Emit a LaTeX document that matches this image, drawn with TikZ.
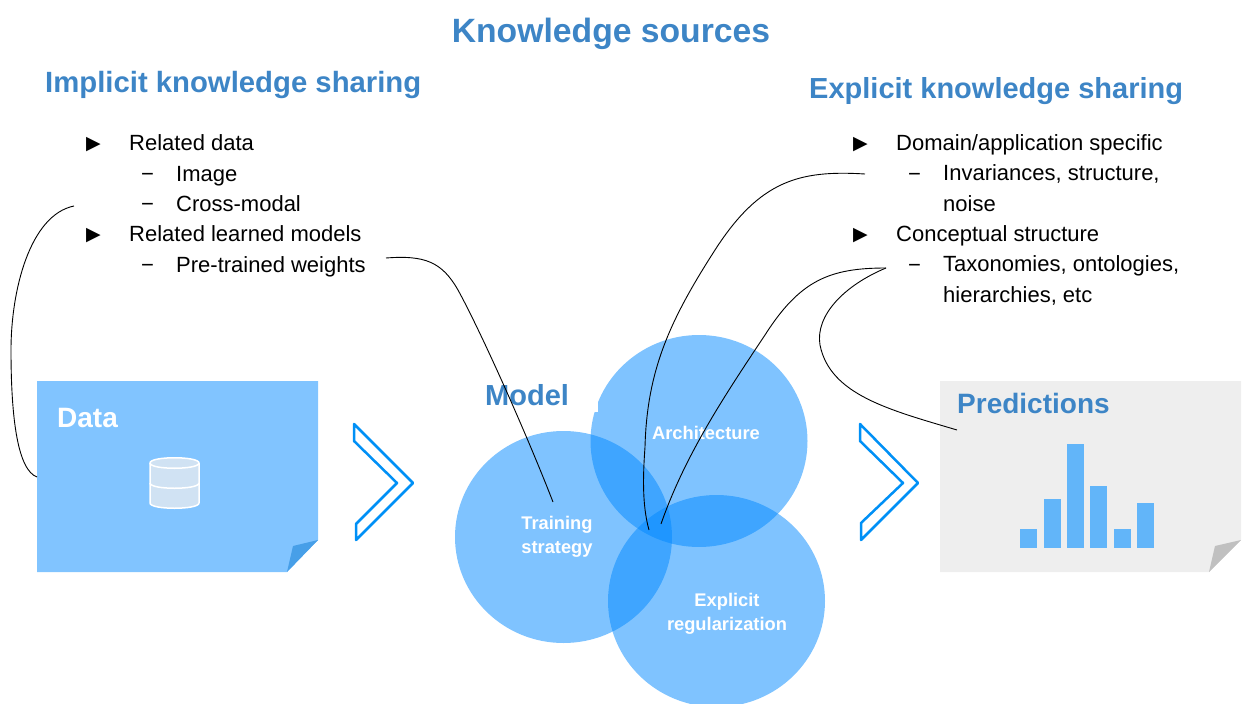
\documentclass[tikz,border=0pt]{standalone}
\usepackage{fontspec}
\setmainfont{Liberation Sans}
\newfontfamily\symbolfont{DejaVu Sans}
\usepackage{tikz}
\definecolor{headblue}{rgb}{0.239,0.522,0.776}
\definecolor{circleblue}{rgb}{0.000,0.533,1.000}
\definecolor{noteblue}{rgb}{0.506,0.769,1.000}
\definecolor{foldblue}{rgb}{0.278,0.624,0.910}
\definecolor{notegrey}{rgb}{0.933,0.933,0.933}
\definecolor{foldgrey}{rgb}{0.753,0.753,0.753}
\definecolor{barblue}{rgb}{0.384,0.710,0.976}
\definecolor{chevronblue}{rgb}{0.000,0.565,0.965}
\definecolor{diskblue}{rgb}{0.816,0.886,0.953}
\tikzstyle{head}=[inner sep=0,text=headblue,font=\bfseries\fontsize{29}{36}\selectfont]
\tikzstyle{headsmall}=[style=head,font=\bfseries\fontsize{28}{36}\selectfont]
\tikzstyle{bullet}=[inner sep=0,anchor=base west,align=left,font=\fontsize{22}{30.5}\selectfont]
\tikzstyle{arrowmark}=[inner sep=0,anchor=base west,font=\symbolfont\fontsize{19}{24}\selectfont]
\tikzstyle{inside}=[inner sep=0,align=center,text=white,font=\bfseries\fontsize{18.3}{24}\selectfont]
\tikzstyle{blob}=[fill=circleblue,fill opacity=0.5]
\tikzstyle{chevron}=[draw=chevronblue,line width=2.5pt,line join=round]
\tikzstyle{link}=[black,line width=0.9pt]
\tikzstyle{bar}=[fill=barblue]
\begin{document}
\begin{tikzpicture}[x=1pt,y=-1pt]
	\useasboundingbox (0,0) rectangle (1243,704);
	% the two notes
	\fill [noteblue] (37,381) -- (318,381) -- (318,540) -- (287,572) -- (37,572) -- cycle;
	\fill [foldblue] (318,540) -- (293,546) -- (287,572) -- cycle;
	\fill [notegrey] (940,381) -- (1241,381) -- (1241,540) -- (1209,572) -- (940,572) -- cycle;
	\fill [foldgrey] (1241,540) -- (1215,546) -- (1209,572) -- cycle;
	% database
	\filldraw [draw=white,fill=diskblue,line width=1.5pt] (150,463) -- (150,503) .. controls (150,510) and (199,510) .. (199,503) -- (199,463) .. controls (199,456) and (150,456) .. cycle;
	\draw [white,line width=1.5pt] (150,463) .. controls (150,470) and (199,470) .. (199,463);
	\draw [white,line width=1.5pt] (150,483) .. controls (150,490) and (199,490) .. (199,483);
	% circles
	\fill [style=blob] (699,441) ellipse (108.5 and 106);
	\fill [white] (480,375) rectangle (598,412);
	\fill [style=blob] (563.5,537) ellipse (108.5 and 106);
	\fill [style=blob] (716.5,601) ellipse (108.5 and 106);
	% chevrons
	\draw [style=chevron] (354,424) -- (413,483) -- (356,540) -- (356,524) -- (397,483) -- (354,441) -- cycle;
	\draw [style=chevron] (860,424) -- (918,483) -- (861,540) -- (861,523) -- (903,483) -- (860,441) -- cycle;
	% bars
	\fill [style=bar] (1020,529) rectangle (1037,548);
	\fill [style=bar] (1044,499) rectangle (1061,548);
	\fill [style=bar] (1067,444) rectangle (1084,548);
	\fill [style=bar] (1090,486) rectangle (1107,548);
	\fill [style=bar] (1114,529) rectangle (1131,548);
	\fill [style=bar] (1137,503) rectangle (1154,548);
	% titles
	\node [style=head,font=\bfseries\fontsize{33.7}{40}\selectfont] (title) at (611,34) {Knowledge sources};
	\node [style=head,anchor=west,font=\bfseries\fontsize{29.3}{36}\selectfont] (implicit) at (45,85) {Implicit knowledge sharing};
	\node [style=head,anchor=west] (explicit) at (809,91) {Explicit knowledge sharing};
	\node [style=head,anchor=west] (model) at (485,395) {Model};
	\node [style=headsmall,anchor=west] (predictions) at (957,403) {Predictions};
	\node [style=headsmall,anchor=west,text=white] (data) at (57,418) {Data};
	% left list
	\node [style=arrowmark] (m0) at (86,149) {▶};
	\node [style=bullet] (l0) at (129,150) {Related data};
	\node [style=bullet] (d1) at (141,181) {−};
	\node [style=bullet] (l1) at (176,181) {Image};
	\node [style=bullet] (d2) at (141,211) {−};
	\node [style=bullet] (l2) at (176,211) {Cross-modal};
	\node [style=arrowmark] (m3) at (86,240) {▶};
	\node [style=bullet] (l3) at (129,241) {Related learned models};
	\node [style=bullet] (d4) at (141,272) {−};
	\node [style=bullet] (l4) at (176,272) {Pre-trained weights};
	% right list
	\node [style=arrowmark] (m5) at (853,149) {▶};
	\node [style=bullet] (r0) at (896,150) {Domain/application specific};
	\node [style=bullet] (d6) at (908,181) {−};
	\node [style=bullet] (r1) at (943,211) {Invariances, structure,\\noise};
	\node [style=arrowmark] (m7) at (853,240) {▶};
	\node [style=bullet] (r2) at (896,241) {Conceptual structure};
	\node [style=bullet] (d8) at (908,272) {−};
	\node [style=bullet] (r3) at (943,302) {Taxonomies, ontologies,\\hierarchies, etc};
	% circle labels
	\node [style=inside] (arch) at (706,433) {Architecture};
	\node [style=inside] (train) at (557,537) {Training\\strategy};
	\node [style=inside] (reg) at (727,614) {Explicit\\regularization};
	% connector ends
	\coordinate (a0) at (74,206);
	\coordinate (a1) at (37,477);
	\coordinate (b0) at (386,258);
	\coordinate (b1) at (553,502);
	\coordinate (c0) at (865,174);
	\coordinate (c1) at (649,530);
	\coordinate (e0) at (886,268);
	\coordinate (e1) at (661,524);
	\coordinate (f1) at (957,430);
	\draw [style=link] (a0) .. controls (30,215) and (11,290) .. (11,350) .. controls (11,420) and (18,470) .. (a1);
	\draw [style=link] (b0) .. controls (425,255) and (442,262) .. (458,290) .. controls (480,330) and (525,430) .. (b1);
	\draw [style=link] (c0) .. controls (800,170) and (760,180) .. (715,250) .. controls (670,320) and (647,370) .. (645,447) .. controls (643,475) and (642,505) .. (c1);
	\draw [style=link] (e0) .. controls (830,268) and (800,280) .. (765,335) .. controls (725,395) and (685,455) .. (e1);
	\draw [style=link] (e0) .. controls (845,285) and (815,315) .. (820,345) .. controls (830,395) and (890,410) .. (f1);
\end{tikzpicture}
\end{document}
